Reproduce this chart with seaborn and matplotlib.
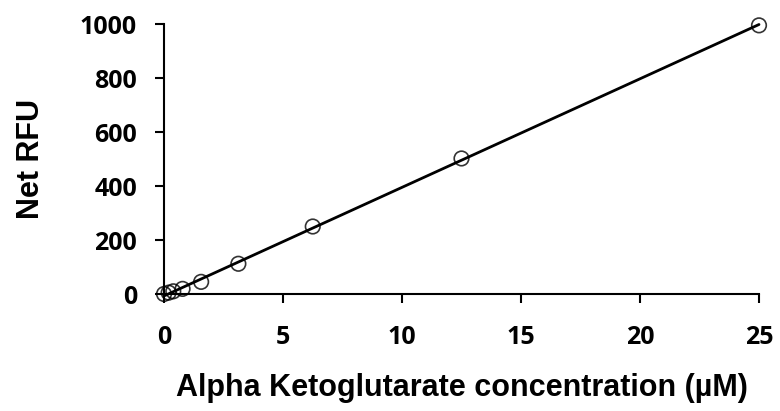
import numpy as np
import pandas as pd
import matplotlib
matplotlib.use('Agg')
import matplotlib.pyplot as plt
import seaborn as sns

# Данные стандартной кривой
conc = [0, 0.195, 0.39, 0.78, 1.56, 3.125, 6.25, 12.5, 25]
net_rfu = [0, 5, 10, 19, 45, 112, 250, 502, 995]
x_ticks = [0, 5, 10, 15, 20, 25]
y_ticks = [0, 200, 400, 600, 800, 1000]

df = pd.DataFrame({'conc': conc, 'rfu': net_rfu})

sns.set_style('ticks', {'text.color': 'black', 'axes.labelcolor': 'black',
                        'xtick.color': 'black', 'ytick.color': 'black',
                        'axes.edgecolor': 'black'})
plt.rcParams['font.family'] = ['Open Sans', 'DejaVu Sans']
plt.rcParams['font.weight'] = 'bold'

fig = plt.figure(figsize=(7.8, 4.11), dpi=100)
ax = fig.add_axes([164 / 780, 117 / 411, 595 / 780, 270 / 411])

sns.regplot(data=df, x='conc', y='rfu', ax=ax, ci=None, color='black',
            scatter_kws={'s': 110, 'facecolors': 'none', 'edgecolors': 'black',
                         'linewidths': 1.2, 'clip_on': False, 'zorder': 3},
            line_kws={'linewidth': 2.0, 'clip_on': False})

ax.set_xlim(0, 25)
ax.set_ylim(0, 1000)
ax.set_xticks(x_ticks)
ax.set_yticks(y_ticks)
ax.tick_params(axis='both', direction='out', length=6.5, width=1.5,
               labelsize=18, colors='black')
ax.tick_params(axis='x', pad=15.5)
ax.tick_params(axis='y', pad=13)
for lbl in ax.get_xticklabels() + ax.get_yticklabels():
    lbl.set_fontweight('bold')
for s in ['left', 'bottom']:
    ax.spines[s].set_linewidth(1.5)
    ax.spines[s].set_color('black')
sns.despine(ax=ax)

ax.set_xlabel('Alpha Ketoglutarate concentration (µM)', fontsize=22,
              fontweight='bold', family=['Liberation Sans', 'DejaVu Sans'],
              labelpad=17, color='black')
ax.set_ylabel('Net RFU', fontsize=22, fontweight='bold',
              family=['Liberation Sans', 'DejaVu Sans'], labelpad=24,
              color='black')

fig.savefig('out.png', dpi=100)
